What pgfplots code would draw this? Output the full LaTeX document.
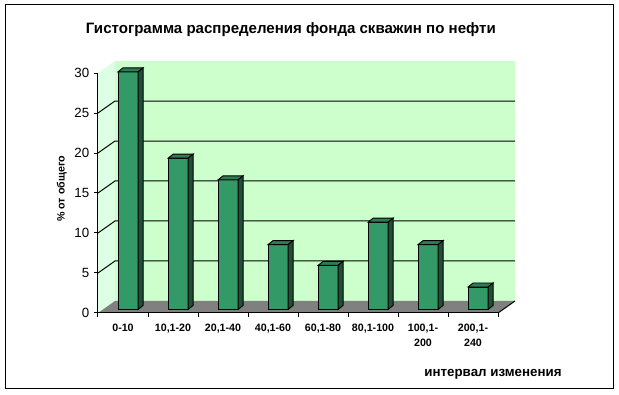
\documentclass[border=0pt]{standalone}
\usepackage{pgfplots}
\pgfplotsset{compat=1.18}
\usepackage{pgfplotstable}
\usepackage{fontspec}
\setmainfont{Liberation Sans}
\definecolor{barfront}{HTML}{339966}
\definecolor{bartop}{HTML}{2B7D55}
\definecolor{barside}{HTML}{1F4F36}
\definecolor{backwall}{HTML}{CCFFCC}
\definecolor{sidewall}{HTML}{DDFFE4}
\definecolor{floorc}{HTML}{808080}
\pgfdeclareplotmark{barbody}{%
  \pgfmathsetmacro\hh{\barh*6}%
  \pgfsetfillcolor{bartop}%
  \pgfpathmoveto{\pgfpoint{-7.5pt}{0pt}}%
  \pgfpathlineto{\pgfpoint{7.5pt}{0pt}}%
  \pgfpathlineto{\pgfpoint{11.25pt}{3pt}}%
  \pgfpathlineto{\pgfpoint{-3.75pt}{3pt}}%
  \pgfpathclose
  \pgfusepath{fill,stroke}%
  \pgfsetfillcolor{barside}%
  \pgfpathmoveto{\pgfpoint{7.5pt}{0pt}}%
  \pgfpathlineto{\pgfpoint{7.5pt}{-\hh pt}}%
  \pgfpathlineto{\pgfpoint{11.25pt}{-\hh pt+3pt}}%
  \pgfpathlineto{\pgfpoint{11.25pt}{3pt}}%
  \pgfpathclose
  \pgfusepath{fill,stroke}%
}
\pgfplotstableread{
x y
0.5 29.7
1.5 18.9
2.5 16.2
3.5 8.1
4.5 5.5
5.5 10.9
6.5 8.1
7.5 2.8
}\data
\begin{document}
\begin{tikzpicture}
\path[use as bounding box] (0,0) rectangle (464.25pt,-296.25pt);
\draw[line width=0.75pt] (3.75pt,-3.75pt) rectangle (459.75pt,-291.75pt);
\node[anchor=base, font=\bfseries\fontsize{11.3}{13}\selectfont] at (218.1pt,-25pt) {Гистограмма распределения фонда скважин по нефти};
\begin{axis}[at={(73.5pt,-234.75pt)}, anchor=south west, scale only axis,
  width=300pt, height=180pt,
  xmin=0, xmax=8, ymin=0, ymax=30, clip=false, axis on top,
  axis x line*=bottom, axis y line*=left,
  axis line style={line width=0.75pt},
  tick align=outside, major tick length=3pt,
  tick style={black, line width=0.75pt},
  ytick={0,5,...,30},
  /pgf/number format/assume math mode=true,
  yticklabel style={font=\fontsize{10}{12}\selectfont},
  xtick={0,...,8}, xticklabels={},
  extra x ticks={0.5,1.5,...,7.5},
  extra x tick labels={0-10,{10,1-20},{20,1-40},{40,1-60},{60,1-80},{80,1-100},{100,1-\\200},{200,1-\\240}},
  extra x tick style={major tick length=0pt,
    xticklabel style={align=center, font=\bfseries\fontsize{8}{11.25}\selectfont, yshift=-5pt}},
]
\fill[sidewall] (axis cs:0,0) -- (axis cs:0,30) -- ([shift={(12.75pt,9pt)}]axis cs:0,30) -- ([shift={(12.75pt,9pt)}]axis cs:0,0) -- cycle;
\fill[backwall] ([shift={(12.75pt,9pt)}]axis cs:0,0) rectangle ([shift={(12.75pt,9pt)}]axis cs:8,30);
\pgfplotsinvokeforeach{5,10,15,20,25}{
  \draw[line width=0.75pt] (axis cs:0,#1) -- ([shift={(12.75pt,9pt)}]axis cs:0,#1) -- ([shift={(12.75pt,9pt)}]axis cs:8,#1);
}
\fill[floorc] (axis cs:0,0) -- (axis cs:8,0) -- ([shift={(12.75pt,9pt)}]axis cs:8,0) -- ([shift={(12.75pt,9pt)}]axis cs:0,0) -- cycle;
\draw[line width=0.75pt] (axis cs:8,0) -- ([shift={(12.75pt,9pt)}]axis cs:8,0);
\addplot[ybar, bar width=15pt, fill=barfront, draw=black, line width=0.7pt, xshift=3.825pt, yshift=2.7pt] table {\data};
\addplot[only marks, mark=barbody, draw=black, line width=0.7pt, xshift=3.825pt, yshift=2.7pt,
  visualization depends on={rawy \as \barh}] table {\data};
\end{axis}
\node[rotate=90, anchor=base, font=\bfseries\fontsize{8}{10}\selectfont] at (48.4pt,-141.75pt) {\% от общего};
\node[anchor=base, font=\bfseries\fontsize{10}{12}\selectfont] at (369.75pt,-282.75pt) {интервал изменения};
\end{tikzpicture}
\end{document}
